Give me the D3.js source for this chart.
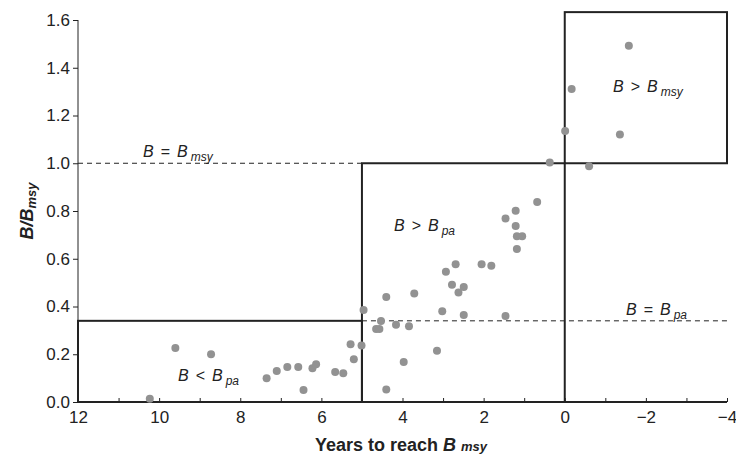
<!DOCTYPE html>
<html><head><meta charset="utf-8">
<script src="https://cdn.jsdelivr.net/npm/d3@7"></script>
<style>
body{margin:0;background:#fff;}
text{font-family:"Liberation Sans",Arial,Helvetica,sans-serif;fill:#222;}
</style></head>
<body><svg id="c" width="736" height="456"></svg>
<script>
// Data: years to reach Bmsy (x) and B/Bmsy (y)
const years = [10.23,9.60,8.72,7.35,7.10,6.84,6.57,6.44,6.22,6.13,5.66,5.46,5.28,5.20,5.01,
  4.96,0.68,1.46,1.21,1.21,1.18,1.05,1.18,2.05,1.81,2.69,2.93,2.78,2.49,2.62,3.71,4.40,3.02,2.49,1.46,
  4.53,4.16,3.84,4.65,4.57,3.15,3.97,4.40,
  -1.58,-0.17,-0.01,-1.36,0.37,-0.60];
const ratio = [0.014,0.226,0.20,0.099,0.13,0.147,0.147,0.05,0.141,0.158,0.126,0.12,0.242,0.179,0.237,
  0.385,0.838,0.769,0.801,0.737,0.694,0.694,0.641,0.577,0.571,0.577,0.546,0.491,0.482,0.459,0.454,0.440,0.380,0.364,0.360,
  0.339,0.324,0.317,0.306,0.306,0.215,0.168,0.052,
  1.492,1.311,1.135,1.120,1.003,0.987];
const xTicks = [12,10,8,6,4,2,0,-2,-4];
const yTicks = [0,0.2,0.4,0.6,0.8,1.0,1.2,1.4,1.6];
const bpa = 0.34, bmsy = 1.0, yTop = 1.633;
// Zones: [x0,x1,y0,y1]
const zones = [[12,5,0,bpa],[5,0,0,bmsy],[0,-4,bmsy,yTop]];

const svg = d3.select("#c");
const x = d3.scaleLinear().domain([12,-4]).range([78,727]);
const y = d3.scaleLinear().domain([0,1.6]).range([402,20]);

// y axis
const ya = svg.append("g").attr("transform","translate(78,0)")
  .call(d3.axisLeft(y).tickValues(yTicks).tickFormat(d3.format(".1f")).tickSize(5).tickPadding(3));
ya.select(".domain").attr("stroke","#222").attr("d","M0,402V20");
ya.selectAll("line").attr("stroke","#222");
ya.selectAll("text").style("font-size","17px").attr("fill","#222");

// x axis (ticks inward)
const xa = svg.append("g").attr("transform","translate(0,402)")
  .call(d3.axisBottom(x).tickValues(d3.range(12,-4.5,-1)).tickSize(-4).tickPadding(9)
    .tickFormat(d=> xTicks.includes(d) ? (d<0 ? "\u2212"+(-d) : d) : ""));
xa.select(".domain").attr("stroke","#222").attr("stroke-width",2).attr("d","M78,0H727");
xa.selectAll("line").attr("stroke","#222");
xa.selectAll("text").style("font-size","17px").attr("fill","#222").attr("dy","0.71em");

// dashed reference lines
svg.append("line").attr("x1",x(12)).attr("x2",x(5)).attr("y1",y(bmsy)).attr("y2",y(bmsy))
  .attr("stroke","#222").attr("stroke-dasharray","5,4").attr("stroke-width",1);
svg.append("line").attr("x1",x(5)).attr("x2",x(-4)).attr("y1",y(bpa)).attr("y2",y(bpa))
  .attr("stroke","#222").attr("stroke-dasharray","5,4").attr("stroke-width",1);

// zone boxes
svg.selectAll("rect.zone").data(zones).join("rect").attr("class","zone")
  .attr("x",d=>x(d[0])).attr("width",d=>x(d[1])-x(d[0]))
  .attr("y",d=>y(d[3])).attr("height",d=>y(d[2])-y(d[3]))
  .attr("fill","none").attr("stroke","#222").attr("stroke-width",2);

// points
svg.selectAll("circle").data(years).join("circle")
  .attr("cx",d=>x(d)).attr("cy",(d,i)=>y(ratio[i])).attr("r",4).attr("fill","#929292");

// annotations
function label(px,py,rel,sub){
  const t = svg.append("text").attr("x",px).attr("y",py).style("font-size","16px");
  t.append("tspan").text("B").style("font-style","italic");
  t.append("tspan").text(rel).attr("dx",7);
  t.append("tspan").text("B").style("font-style","italic").attr("dx",7);
  t.append("tspan").text(sub).style("font-style","italic").style("font-size","12px").attr("dx",3).attr("dy",4);
}
label(143,157,"=","msy");
label(394,231,">","pa");
label(626,315,"=","pa");
label(178,381,"<","pa");
label(613,92,">","msy");

// axis titles
const xt = svg.append("text").attr("x",401).attr("y",451).attr("text-anchor","middle")
  .style("font-size","18px").style("font-weight","bold");
xt.append("tspan").text("Years to reach ");
xt.append("tspan").text("B").style("font-style","italic");
xt.append("tspan").text("msy").style("font-style","italic").style("font-size","13px").attr("dx",5);

const yt = svg.append("text").attr("transform","translate(33,211) rotate(-90)").attr("text-anchor","middle")
  .style("font-size","18px").style("font-weight","bold");
yt.append("tspan").text("B/B").style("font-style","italic");
yt.append("tspan").text("msy").style("font-style","italic").style("font-size","13px").attr("dy",3);
</script></body></html>
